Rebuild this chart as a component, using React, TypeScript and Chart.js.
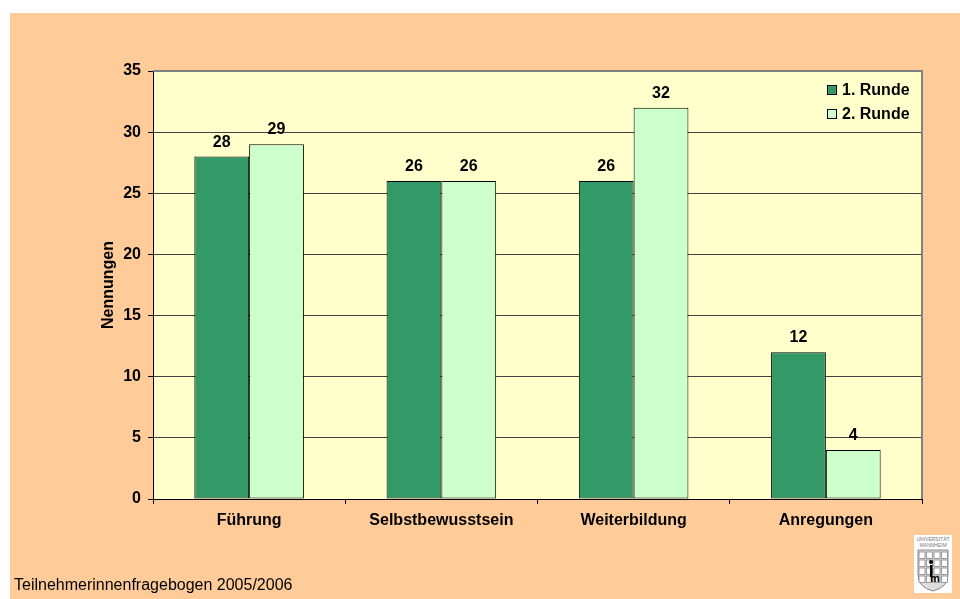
import React, { useEffect, useRef } from "react";
import { Chart, registerables } from "chart.js";

Chart.register(...registerables);

const categories = ["Führung", "Selbstbewusstsein", "Weiterbildung", "Anregungen"];
const runde1 = [28, 26, 26, 12];
const runde2 = [29, 26, 32, 4];
const seriesNames = ["1. Runde", "2. Runde"];
const yTitle = "Nennungen";
const footer = "Teilnehmerinnenfragebogen 2005/2006";

const FONT = "Arial, 'Liberation Sans', Helvetica, sans-serif";

const framePlugin = {
  id: "frame",
  beforeDatasetsDraw(chart: any) {
    const { ctx, chartArea } = chart;
    ctx.save();
    ctx.strokeStyle = "#808080";
    ctx.lineWidth = 2;
    ctx.beginPath();
    ctx.moveTo(chartArea.left, chartArea.top);
    ctx.lineTo(chartArea.right, chartArea.top);
    ctx.lineTo(chartArea.right, chartArea.bottom);
    ctx.stroke();
    ctx.restore();
  },
};

const labelsPlugin = {
  id: "valueLabels",
  afterDatasetsDraw(chart: any) {
    const { ctx } = chart;
    ctx.save();
    ctx.font = `bold 16px ${FONT}`;
    ctx.fillStyle = "#000";
    ctx.textAlign = "center";
    ctx.textBaseline = "alphabetic";
    chart.data.datasets.forEach((ds: any, i: number) => {
      const meta = chart.getDatasetMeta(i);
      meta.data.forEach((bar: any, j: number) => {
        ctx.fillText(String(ds.data[j]), bar.x, bar.y - 10);
      });
    });
    ctx.restore();
  },
};

const legendPlugin = {
  id: "customLegend",
  afterDraw(chart: any) {
    const { ctx, chartArea } = chart;
    ctx.save();
    ctx.font = `bold 16px ${FONT}`;
    ctx.textAlign = "left";
    ctx.textBaseline = "middle";
    chart.data.datasets.forEach((ds: any, i: number) => {
      const y = chartArea.top + 19 + i * 24;
      const x = chartArea.right - 95;
      ctx.fillStyle = ds.backgroundColor;
      ctx.fillRect(x, y - 5, 10, 10);
      ctx.strokeStyle = "#000";
      ctx.lineWidth = 1;
      ctx.strokeRect(x + 0.5, y - 4.5, 9, 9);
      ctx.fillStyle = "#000";
      ctx.fillText(ds.label, x + 15, y + 1);
    });
    ctx.restore();
  },
};

const bgPlugin = {
  id: "plotBg",
  beforeDraw(chart: any) {
    const { ctx, chartArea } = chart;
    ctx.save();
    ctx.fillStyle = "#FFFFCC";
    ctx.fillRect(chartArea.left, chartArea.top, chartArea.right - chartArea.left, chartArea.bottom - chartArea.top);
    ctx.restore();
  },
};

function Logo() {
  const cells = [];
  for (let r = 0; r < 4; r++) {
    for (let c = 0; c < 4; c++) {
      cells.push(
        <rect key={`${r}-${c}`} x={5 + c * 7.5} y={17 + r * 8} width={6} height={6.5} fill="#fff" stroke="#888" strokeWidth={0.8} />
      );
    }
  }
  return (
    <svg width={38} height={58} style={{ position: "absolute", left: 914, top: 535 }}>
      <rect x={0} y={0} width={38} height={58} fill="#fff" />
      <text x={19} y={6} fontSize={5} textAnchor="middle" fill="#777" fontFamily={FONT}>UNIVERSITÄT</text>
      <text x={19} y={12} fontSize={5} textAnchor="middle" fill="#777" fontFamily={FONT}>MANNHEIM</text>
      <path d="M4 15 H34 V40 Q34 52 19 56 Q4 52 4 40 Z" fill="#ddd" stroke="#888" strokeWidth={1} />
      {cells}
      <circle cx={17} cy={27} r={2} fill="#000" />
      <rect x={16} y={30} width={2.5} height={12} fill="#000" />
      <text x={21} y={47} fontSize={11} fontWeight="bold" textAnchor="middle" fill="#000" fontFamily={FONT}>m</text>
    </svg>
  );
}

export default function App() {
  const canvasRef = useRef<HTMLCanvasElement | null>(null);

  useEffect(() => {
    if (!canvasRef.current) return;
    const chart = new Chart(canvasRef.current, {
      type: "bar",
      data: {
        labels: categories,
        datasets: [
          {
            label: seriesNames[0],
            data: runde1,
            backgroundColor: "#339966",
            borderColor: "#000",
            borderWidth: 1,
            borderSkipped: false,
            categoryPercentage: 0.57,
            barPercentage: 1.0,
          },
          {
            label: seriesNames[1],
            data: runde2,
            backgroundColor: "#CCFFCC",
            borderColor: "#000",
            borderWidth: 1,
            borderSkipped: false,
            categoryPercentage: 0.57,
            barPercentage: 1.0,
          },
        ],
      },
      options: {
        responsive: false,
        animation: false,
        layout: { padding: { left: 95, top: 71, right: 38, bottom: 60 } },
        plugins: {
          legend: { display: false },
          tooltip: { enabled: false },
        },
        scales: {
          x: {
            grid: {
              offset: true,
              drawOnChartArea: false,
              drawTicks: true,
              tickLength: 5,
              color: "#000",
            },
            border: { color: "#000", width: 1 },
            ticks: {
              color: "#000",
              font: { family: FONT, size: 16, weight: "bold" },
              padding: 7,
              maxRotation: 0,
            },
            afterFit: (s: any) => {
              s.height = 40;
            },
          },
          y: {
            min: 0,
            max: 35,
            ticks: {
              stepSize: 5,
              color: "#000",
              font: { family: FONT, size: 16, weight: "bold" },
              padding: 7,
            },
            grid: {
              color: "#404040",
              lineWidth: 1,
              tickLength: 5,
              tickColor: "#000",
              drawTicks: true,
            },
            border: { color: "#000", width: 1 },
            title: {
              display: true,
              text: yTitle,
              color: "#000",
              font: { family: FONT, size: 16, weight: "bold" },
              padding: 4,
            },
            afterFit: (s: any) => {
              s.width = 58;
            },
          },
        },
      },
      plugins: [bgPlugin, framePlugin, labelsPlugin, legendPlugin],
    } as any);
    return () => chart.destroy();
  }, []);

  return (
    <div style={{ position: "absolute", left: 0, top: 0, width: 960, height: 599, background: "#fff", overflow: "hidden" }}>
      <div style={{ position: "absolute", left: 10, top: 13, width: 950, height: 586, background: "#FFCC99" }} />
      <canvas ref={canvasRef} width={960} height={599} style={{ position: "absolute", left: 0, top: 0, width: 960, height: 599 }} />
      <div
        style={{
          position: "absolute",
          left: 14,
          top: 576,
          fontFamily: FONT,
          fontSize: 16,
          color: "#000",
          whiteSpace: "nowrap",
          lineHeight: "18px",
        }}
      >
        {footer}
      </div>
      <Logo />
    </div>
  );
}
